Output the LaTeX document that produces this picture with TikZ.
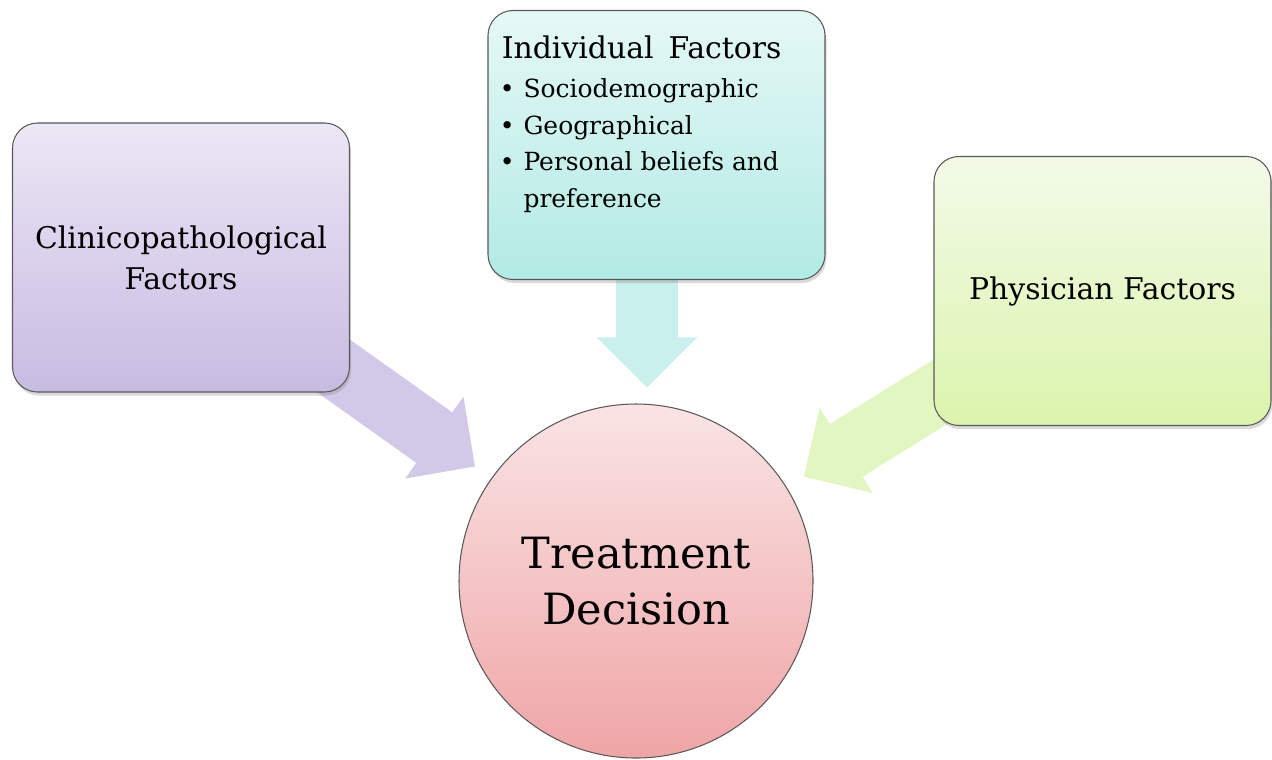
\documentclass[tikz,border=0pt]{standalone}
\usepackage{fontspec}
\setmainfont{DejaVu Serif}
\usetikzlibrary{arrows.meta,shadows,backgrounds,positioning}
\definecolor{clinTop}{HTML}{ECE7F5}
\definecolor{clinBot}{HTML}{C8BBE2}
\definecolor{indivTop}{HTML}{E5F8F6}
\definecolor{indivBot}{HTML}{B2EAE4}
\definecolor{physTop}{HTML}{F3FAE8}
\definecolor{physBot}{HTML}{DBF4AC}
\definecolor{decTop}{HTML}{FAE4E5}
\definecolor{decBot}{HTML}{EFA5A6}
\definecolor{clinArrow}{HTML}{D2C9E9}
\definecolor{indivArrow}{HTML}{C9F0EC}
\definecolor{physArrow}{HTML}{E2F6C2}
\begin{document}
\begin{tikzpicture}
    \tikzstyle{box} = [rectangle, rounded corners = 0.5cm, minimum width = 6.74cm, minimum height = 5.38cm, draw = black!65, line width = 0.6pt, drop shadow = {opacity = 0.3, shadow xshift = 0.03cm, shadow yshift = -0.07cm}, align = center, font = \fontsize{17}{23.3}\selectfont]
    \tikzstyle{decision} = [circle, minimum size = 7.08cm, draw = black!65, line width = 0.6pt, top color = decTop, bottom color = decBot, align = center, font = \fontsize{24.5}{31.9}\selectfont]
    \tikzstyle{arrow} = [line width = 1.24cm, -{Triangle[length = 1cm, width = 1.95cm]}]
    \useasboundingbox (0, 0) rectangle (25.44, -15.18);

    \node[box, top color = indivTop, bottom color = indivBot](indiv) at (13.13, -2.9){};
    \node[decision, below of = indiv, xshift = -0.41cm, yshift = -7.72cm](dec){Treatment\\Decision};
    \node[box, top color = clinTop, bottom color = clinBot, left of = dec, xshift = -8.1cm, yshift = 6.47cm](clin){Clinicopathological\\Factors};
    \node[box, top color = physTop, bottom color = physBot, right of = dec, xshift = 8.33cm, yshift = 5.8cm](phys){Physician Factors};

    \node[anchor = north west, inner sep = 0pt, font = \fontsize{17}{21}\selectfont](indivtitle) at ([xshift = 0.28cm, yshift = -0.5cm]indiv.north west){Individual\hspace{0.5em}Factors};
    \node[anchor = north west, inner sep = 0pt, font = \fontsize{14.2}{20.9}\selectfont](indivlist) at ([xshift = 0.24cm, yshift = -1.23cm]indiv.north west){%
        \begin{tabular}{@{}l@{\hspace{0.18cm}}l@{}}
            \textbullet & Sociodemographic\\
            \textbullet & Geographical\\
            \textbullet & Personal beliefs and\\
                        & preference
        \end{tabular}};

    \coordinate (tipI) at ([xshift = 0.22cm, yshift = 0.32cm]dec.north);

    \begin{scope}[on background layer]
        \draw[arrow, draw = clinArrow, shorten > = 0.4cm](clin.center)--(dec);
        \draw[arrow, draw = physArrow, shorten > = 0.4cm](phys.center)--(dec);
        \draw[arrow, draw = indivArrow](indiv.center -| tipI)--(tipI);
    \end{scope}
\end{tikzpicture}
\end{document}
